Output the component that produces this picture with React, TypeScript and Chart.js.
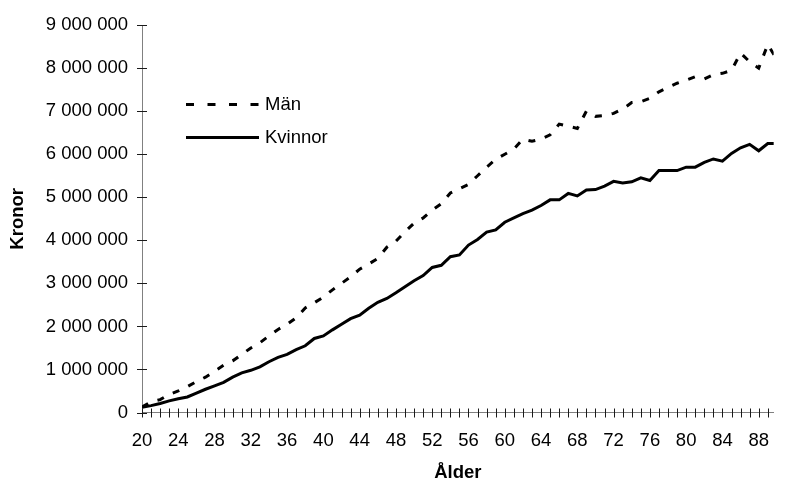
import React, { useEffect, useRef } from 'react';
import { Chart, registerables } from 'chart.js';

Chart.register(...registerables);

const ages = [
  20, 21, 22, 23, 24, 25, 26, 27, 28, 29,
  30, 31, 32, 33, 34, 35, 36, 37, 38, 39,
  40, 41, 42, 43, 44, 45, 46, 47, 48, 49,
  50, 51, 52, 53, 54, 55, 56, 57, 58, 59,
  60, 61, 62, 63, 64, 65, 66, 67, 68, 69,
  70, 71, 72, 73, 74, 75, 76, 77, 78, 79,
  80, 81, 82, 83, 84, 85, 86, 87, 88, 89, 90,
];

const man = [
  130000, 250000, 300000, 420000, 500000, 600000, 720000, 820000, 960000, 1100000,
  1200000, 1350000, 1500000, 1620000, 1780000, 1930000, 2050000, 2200000, 2430000, 2550000,
  2680000, 2850000, 3000000, 3150000, 3330000, 3450000, 3580000, 3840000, 3980000, 4200000,
  4400000, 4520000, 4700000, 4850000, 5100000, 5200000, 5300000, 5500000, 5700000, 5880000,
  6000000, 6120000, 6350000, 6300000, 6350000, 6450000, 6700000, 6650000, 6600000, 7000000,
  6880000, 6900000, 6950000, 7050000, 7200000, 7220000, 7300000, 7450000, 7550000, 7650000,
  7720000, 7800000, 7750000, 7850000, 7880000, 7950000, 8350000, 8150000, 8000000, 8550000, 8200000,
];

const kvinnor = [
  120000, 160000, 210000, 270000, 320000, 360000, 450000, 540000, 620000, 700000,
  820000, 920000, 980000, 1060000, 1180000, 1280000, 1350000, 1460000, 1550000, 1720000,
  1780000, 1920000, 2050000, 2180000, 2260000, 2420000, 2560000, 2650000, 2780000, 2920000,
  3060000, 3180000, 3370000, 3420000, 3620000, 3660000, 3890000, 4020000, 4190000, 4240000,
  4420000, 4520000, 4620000, 4700000, 4810000, 4940000, 4940000, 5090000, 5030000, 5170000,
  5180000, 5260000, 5370000, 5330000, 5360000, 5450000, 5390000, 5620000, 5620000, 5620000,
  5700000, 5700000, 5810000, 5890000, 5840000, 6020000, 6150000, 6230000, 6080000, 6250000, 6250000,
];

const yTickValues = [0, 1000000, 2000000, 3000000, 4000000, 5000000, 6000000, 7000000, 8000000, 9000000];
const xLabelAges = [20, 24, 28, 32, 36, 40, 44, 48, 52, 56, 60, 64, 68, 72, 76, 80, 84, 88];
const seriesNames = ['Män', 'Kvinnor'];
const xTitle = 'Ålder';
const yTitle = 'Kronor';

const FONT = "'Liberation Sans', Arial, Helvetica, sans-serif";
const X_MAX = 89.65;

const fmt = (v: number) => String(v).replace(/\B(?=(\d{3})+(?!\d))/g, ' ');

const crossTicks = {
  id: 'crossTicks',
  afterDraw(chart: any) {
    const ctx = chart.ctx;
    const { left, bottom } = chart.chartArea;
    const xs = chart.scales.x;
    const ys = chart.scales.y;
    ctx.save();
    ctx.setLineDash([]);
    ctx.strokeStyle = '#1a1a1a';
    ctx.lineWidth = 1;
    ctx.beginPath();
    ages.forEach((a) => {
      if (a > X_MAX) return;
      const px = Math.round(xs.getPixelForValue(a)) + 0.5;
      ctx.moveTo(px, bottom - 4);
      ctx.lineTo(px, bottom + 5);
    });
    yTickValues.forEach((v) => {
      const py = Math.round(ys.getPixelForValue(v)) + 0.5;
      ctx.moveTo(left - 5, py);
      ctx.lineTo(left + 5, py);
    });
    ctx.stroke();
    ctx.restore();
  },
};

const insideLegend = {
  id: 'insideLegend',
  afterDraw(chart: any) {
    const ctx = chart.ctx;
    const { left, top } = chart.chartArea;
    const x0 = left + 44;
    const rows = [top + 79.5, top + 112.5];
    ctx.save();
    chart.data.datasets.forEach((ds: any, i: number) => {
      const y = rows[i];
      ctx.beginPath();
      ctx.strokeStyle = ds.borderColor;
      ctx.lineWidth = 3;
      ctx.lineCap = 'butt';
      ctx.setLineDash(ds.borderDash && ds.borderDash.length ? [8, 13.5] : []);
      ctx.moveTo(x0, y);
      ctx.lineTo(x0 + 73, y);
      ctx.stroke();
      ctx.setLineDash([]);
      ctx.fillStyle = '#000';
      ctx.font = `18.5px ${FONT}`;
      ctx.textBaseline = 'middle';
      ctx.textAlign = 'left';
      ctx.fillText(ds.label, x0 + 79, y);
    });
    ctx.restore();
  },
};

export default function App() {
  const ref = useRef<HTMLCanvasElement | null>(null);

  useEffect(() => {
    if (!ref.current) return;
    const chart = new Chart(ref.current, {
      type: 'line',
      data: {
        datasets: [
          {
            label: seriesNames[0],
            data: ages.map((a, i) => ({ x: a, y: man[i] })),
            borderColor: '#000000',
            borderWidth: 3,
            borderDash: [7, 10],
            pointRadius: 0,
            tension: 0,
            fill: false,
          },
          {
            label: seriesNames[1],
            data: ages.map((a, i) => ({ x: a, y: kvinnor[i] })),
            borderColor: '#000000',
            borderWidth: 3,
            borderDash: [],
            pointRadius: 0,
            tension: 0,
            fill: false,
          },
        ],
      },
      options: {
        animation: false,
        responsive: false,
        devicePixelRatio: 1,
        layout: { padding: { top: 20, right: 0, bottom: 0, left: 0 } },
        plugins: {
          legend: { display: false },
          tooltip: { enabled: false },
        },
        scales: {
          x: {
            type: 'linear',
            min: 20,
            max: X_MAX,
            bounds: 'data',
            afterBuildTicks: (s: any) => {
              s.ticks = xLabelAges.map((v) => ({ value: v }));
            },
            afterFit: (s: any) => {
              s.height = 71.5;
            },
            grid: { display: false, drawTicks: false },
            border: { display: true, color: '#808080', width: 1 },
            ticks: {
              autoSkip: false,
              source: 'data',
              maxRotation: 0,
              minRotation: 0,
              padding: 17,
              color: '#000000',
              font: { family: FONT, size: 18.5 },
              callback: (v: any) => String(v),
            },
            title: {
              display: true,
              text: xTitle,
              color: '#000000',
              font: { family: FONT, size: 18.5, weight: 'bold' },
              padding: { top: 0, bottom: 0 },
            },
          },
          y: {
            type: 'linear',
            min: 0,
            max: 9000000,
            afterBuildTicks: (s: any) => {
              s.ticks = yTickValues.map((v) => ({ value: v }));
            },
            afterFit: (s: any) => {
              s.width = 142;
            },
            grid: { display: false, drawTicks: false },
            border: { display: true, color: '#808080', width: 1 },
            ticks: {
              padding: 14,
              color: '#000000',
              font: { family: FONT, size: 18.5 },
              callback: (v: any) => fmt(Number(v)),
            },
            title: {
              display: true,
              text: yTitle,
              color: '#000000',
              font: { family: FONT, size: 18.5, weight: 'bold' },
              padding: { top: 6.4, bottom: 0 },
            },
          },
        },
      } as any,
      plugins: [crossTicks, insideLegend],
    });
    return () => chart.destroy();
  }, []);

  return (
    <div style={{ position: 'fixed', left: 0, top: 0, width: 786, height: 484, background: '#ffffff' }}>
      <canvas ref={ref} width={786} height={484} style={{ display: 'block', width: 786, height: 484 }} />
    </div>
  );
}
